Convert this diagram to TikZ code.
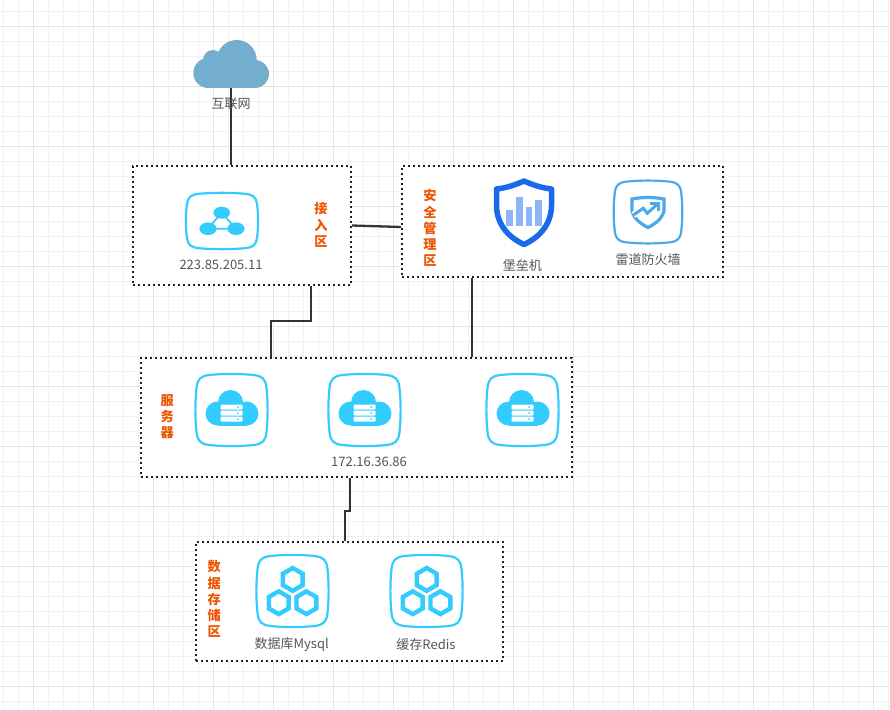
\documentclass[tikz,border=0pt]{standalone}
\usepackage{fontspec}
\setmainfont{Noto Sans CJK SC}
\definecolor{iconblue}{HTML}{33CCFF}
\definecolor{wallblue}{HTML}{4AA8EC}
\definecolor{shieldblue}{HTML}{1A6AE8}
\definecolor{barblue}{HTML}{8DB4F4}
\definecolor{skyblue}{HTML}{73AECE}
\definecolor{areaorange}{HTML}{EE5500}
\definecolor{captiongray}{HTML}{555555}
\definecolor{linkgray}{HTML}{333333}
\definecolor{gridminor}{HTML}{F1F1F1}
\definecolor{gridmajor}{HTML}{E5E5E5}
\tikzset{
  zone/.style={draw=black!88,fill=white,line width=2pt,dash pattern=on 2pt off 3pt,inner sep=0pt},
  link/.style={draw=linkgray,line width=2.3pt},
  caption/.style={text=captiongray,font=\fontsize{13}{15}\selectfont,inner sep=0pt},
  areatitle/.style={text=areaorange,font=\fontsize{13.2}{16.2}\selectfont\bfseries,align=center,inner sep=0pt},
  pics/tile/.style n args={3}{code={
    \draw[#1,line width=2.2pt,xscale=#2,yscale=#3] (-22,-35) .. controls (-8,-36.5) and (8,-36.5) .. (22,-35) .. controls (31,-34) and (34,-31) .. (35,-22) .. controls (36.5,-8) and (36.5,8) .. (35,22) .. controls (34,31) and (31,34) .. (22,35) .. controls (8,36.5) and (-8,36.5) .. (-22,35) .. controls (-31,34) and (-34,31) .. (-35,22) .. controls (-36.5,8) and (-36.5,-8) .. (-35,-22) .. controls (-34,-31) and (-31,-34) .. (-22,-35) -- cycle;
  }},
  pics/srvglyph/.style={code={
    \fill[iconblue] (-14,4) circle (12);
    \fill[iconblue] (-1,-7) circle (12.5);
    \fill[iconblue] (15,4) circle (12);
    \fill[iconblue] (-14,-4) rectangle (15,16);
    \foreach \y in {-5,1,7}{
      \fill[white,rounded corners=1pt] (-11,\y) rectangle (11,\y+5);
      \fill[iconblue] (6.5,\y+2.5) circle (1);
    }
  }},
  pics/hexglyph/.style={code={
    \foreach \cx/\cy in {0/-12.3,-14/11,13.7/11}{
      \draw[iconblue,line width=4.4pt,shift={(\cx,\cy)}] (0,-11.4) -- (9.9,-5.7) -- (9.9,5.7) -- (0,11.4) -- (-9.9,5.7) -- (-9.9,-5.7) -- cycle;
    }
  }}
}
\begin{document}
\begin{tikzpicture}[x=1pt,y=-1pt]
\useasboundingbox (0,0) rectangle (890,709);
% grid
\foreach \gx in {3.3,18.3,...,890}{\draw[gridminor,line width=1pt] (\gx,0) -- (\gx,709);}
\foreach \gy in {11.7,26.7,...,709}{\draw[gridminor,line width=1pt] (0,\gy) -- (890,\gy);}
\foreach \gx in {33.3,93.3,...,890}{\draw[gridmajor,line width=1pt] (\gx,0) -- (\gx,709);}
\foreach \gy in {26.7,86.7,...,709}{\draw[gridmajor,line width=1pt] (0,\gy) -- (890,\gy);}
% areas
\node[zone,minimum width=218pt,minimum height=119pt] (access) at (242,225.5) {};
\node[zone,minimum width=321pt,minimum height=111pt] (secure) at (562.5,221.5) {};
\node[zone,minimum width=431pt,minimum height=119pt] (server) at (356.5,417.5) {};
\node[zone,minimum width=307pt,minimum height=119pt] (storage) at (349.5,601.5) {};
% internet cloud
\fill[skyblue] (208.3,73) circle (15);
\fill[skyblue] (213,60) circle (10);
\fill[skyblue] (236.7,60) circle (20);
\fill[skyblue] (255,74) circle (14);
\fill[skyblue] (208,65) rectangle (255,88);
\node[minimum width=76pt,minimum height=48pt,inner sep=0pt] (internet) at (231,64) {};
% connectors
\draw[link] (internet.south) -- ([xshift=-11pt]access.north);
\draw[link] (access.east) -- ([yshift=-5.5pt]secure.west);
\draw[link] ([xshift=69pt]access.south) -- ++(0,35) -| ([xshift=-85.5pt]server.north);
\draw[link] ([xshift=-90.5pt]secure.south) -- ([xshift=115.5pt]server.north);
\draw[link] ([xshift=-6.5pt]server.south) -- ++(0,33) -| ([xshift=-4.5pt]storage.north);
% access icon
\pic at (222,221) {tile={iconblue}{1}{.78}};
\fill[iconblue] (221.7,212.7) ellipse (8.3 and 6);
\fill[iconblue] (208,228.7) ellipse (8.6 and 6.3);
\fill[iconblue] (236,228.7) ellipse (8.6 and 6.3);
\draw[iconblue,line width=1.8pt] (221.7,212.7) -- (208,228.7) -- (236,228.7) -- cycle;
% security icons
\draw[shieldblue,line width=5.5pt,line join=round] (524,181) .. controls (515,185) and (506,188) .. (496.5,189) -- (496.5,206) .. controls (497,226) and (510,238) .. (524,244.5) .. controls (538,238) and (551,226) .. (551.5,206) -- (551.5,189) .. controls (542,188) and (533,185) .. (524,181) -- cycle;
\fill[barblue] (506.3,210) rectangle (513.3,225.7);
\fill[barblue] (516,197) rectangle (523,225.7);
\fill[barblue] (526,207) rectangle (532.3,225.7);
\fill[barblue] (535.3,200.3) rectangle (542,225.7);
\pic at (648,212) {tile={wallblue}{.95}{.87}};
\draw[wallblue,line width=3.2pt] (632,199) .. controls (643,197) and (653,197) .. (664,199) -- (664,211) .. controls (662,219) and (655,224) .. (648,227.5) .. controls (641,224) and (634,219) .. (632,211) -- cycle;
\draw[white,line width=6.5pt] (633.3,215) -- (643.3,208.3) -- (647.3,213.3) -- (658.3,203.3);
\draw[wallblue,line width=3pt] (633.3,215) -- (643.3,208.3) -- (647.3,213.3) -- (658.3,203.3);
\draw[wallblue,line width=3pt] (650,203.3) -- (658.3,203.3) -- (658.3,211);
% server icons
\pic at (231.5,410) {tile={iconblue}{1}{1}};
\pic at (231.5,409.5) {srvglyph};
\pic at (364.5,410) {tile={iconblue}{1}{1}};
\pic at (364.5,409.5) {srvglyph};
\pic at (522.5,410) {tile={iconblue}{1}{1}};
\pic at (522.5,409.5) {srvglyph};
% storage icons
\pic at (292.5,591) {tile={iconblue}{1}{1}};
\pic at (292.7,591.7) {hexglyph};
\pic at (426.5,591) {tile={iconblue}{1}{1}};
\pic at (426.7,591.7) {hexglyph};
% labels
\node[caption] (netlabel) at (231,104) {互联网};
\node[caption] (accesslabel) at (221,265) {223.85.205.11};
\node[caption] (bastionlabel) at (522.3,265.7) {堡垒机};
\node[caption] (walllabel) at (648,260) {雷道防火墙};
\node[caption] (serverlabel) at (369,462.3) {172.16.36.86};
\node[caption] (mysqllabel) at (291.7,644.3) {数据库Mysql};
\node[caption] (redislabel) at (426,644.3) {缓存Redis};
\node[areatitle] (accesstitle) at (321,225) {接\\入\\区};
\node[areatitle] (securetitle) at (430,228) {安\\全\\管\\理\\区};
\node[areatitle] (servertitle) at (167.3,417) {服\\务\\器};
\node[areatitle] (storagetitle) at (214.3,599) {数\\据\\存\\储\\区};
\end{tikzpicture}
\end{document}
